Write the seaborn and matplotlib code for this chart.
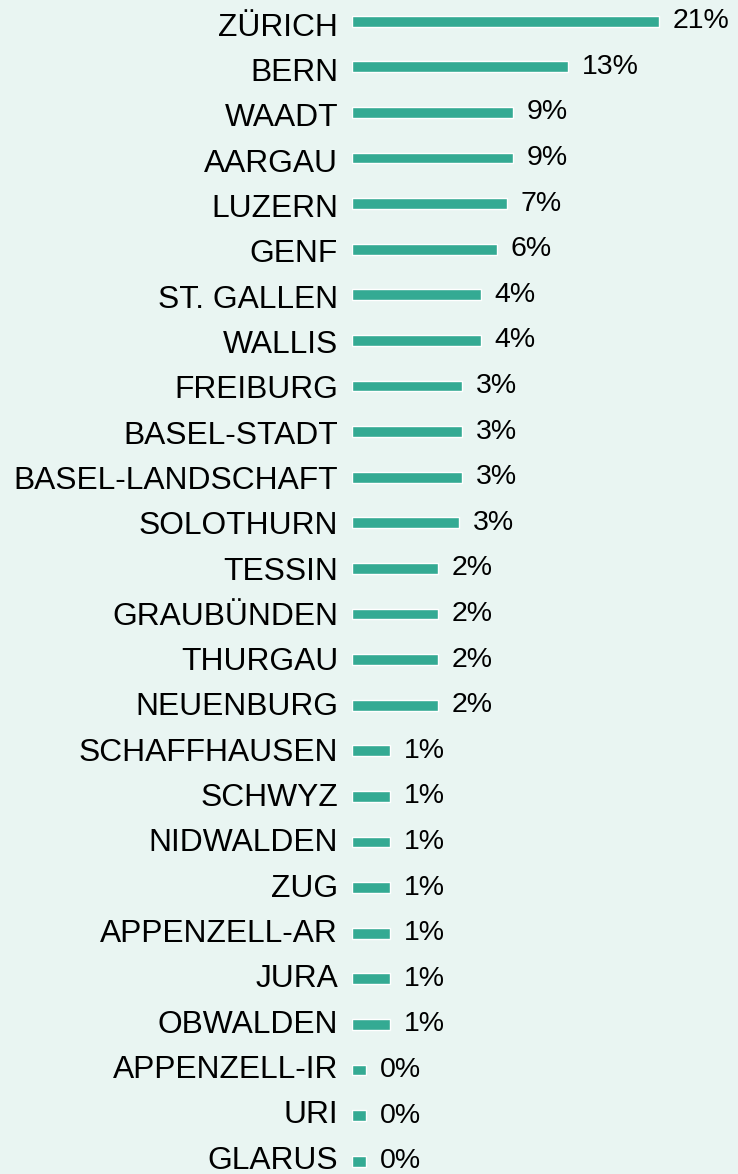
"""Horizontal bar chart: share by canton"""
import pandas as pd
import matplotlib.pyplot as plt
import matplotlib.transforms as mtransforms
import seaborn as sns

cantons = ["ZÜRICH", "BERN", "WAADT", "AARGAU", "LUZERN", "GENF", "ST. GALLEN", "WALLIS",
           "FREIBURG", "BASEL-STADT", "BASEL-LANDSCHAFT", "SOLOTHURN", "TESSIN", "GRAUBÜNDEN",
           "THURGAU", "NEUENBURG", "SCHAFFHAUSEN", "SCHWYZ", "NIDWALDEN", "ZUG", "APPENZELL-AR",
           "JURA", "OBWALDEN", "APPENZELL-IR", "URI", "GLARUS"]
# bar lengths as drawn in the picture (same units as the Zürich label)
bar_value = [21.0, 14.8, 11.0, 11.0, 10.6, 9.9, 8.8, 8.8, 7.5, 7.5, 7.5, 7.3, 5.9, 5.9,
             5.9, 5.9, 2.6, 2.6, 2.6, 2.6, 2.6, 2.6, 2.6, 0.96, 0.96, 0.96]
# percentages printed next to the bars
pct_label = [21, 13, 9, 9, 7, 6, 4, 4, 3, 3, 3, 3, 2, 2, 2, 2, 1, 1, 1, 1, 1, 1, 1, 0, 0, 0]

df = pd.DataFrame({"canton": cantons, "value": bar_value})

bg = "#e9f5f2"
bar_color = "#34aa93"

sns.set_theme(style="white")
plt.rcParams["font.family"] = ["Liberation Sans", "DejaVu Sans"]

fig = plt.figure(figsize=(7.38, 11.74), dpi=100, facecolor=bg)
ax = fig.add_axes([352 / 738, -10 / 1174, 380 / 738, 1185.6 / 1174])
ax.set_facecolor(bg)

sns.barplot(data=df, x="value", y="canton", orient="h", color=bar_color,
            width=0.24, saturation=1, ax=ax)
ax.bar_label(ax.containers[0], labels=[f"{v}%" for v in pct_label],
             padding=10, fontsize=20.5, color="black")

ax.set_xlim(0, 26)
ax.set_ylim(len(cantons) - 0.5, -0.5)
ax.set_xlabel(""); ax.set_ylabel("")
ax.set_xticks([])
ax.tick_params(axis="y", length=0, pad=10, labelsize=22.9, labelcolor="black")
sns.despine(ax=ax, left=True, bottom=True)

# the names are spaced a bit tighter than the bars in the original:
# slightly below the bar at the top, slightly above it at the bottom
n = len(cantons)
for i, lbl in enumerate(ax.get_yticklabels()):
    dy = (-3 + 7 * i / (n - 1)) / 100
    lbl.set_transform(lbl.get_transform() + mtransforms.ScaledTranslation(0, dy, fig.dpi_scale_trans))

plt.savefig("out.png", dpi=100, facecolor=bg)
print("Saved: out.png")
